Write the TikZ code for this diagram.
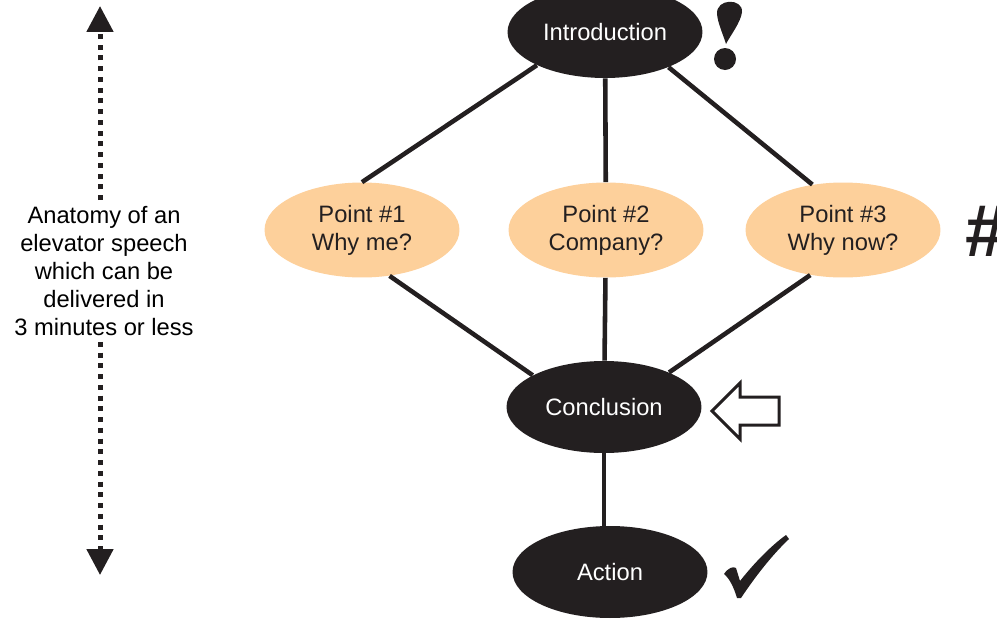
\documentclass[tikz,border=0pt]{standalone}
\usepackage{fontspec}
\setmainfont{Liberation Sans}
\usetikzlibrary{shapes.geometric,arrows.meta}
\definecolor{ink}{RGB}{35,31,32}
\definecolor{peach}{RGB}{253,208,155}

\begin{document}
\begin{tikzpicture}[x=0.02cm,y=-0.02cm,
  txt/.style={font=\fontsize{13.5}{15.9}\selectfont},
  dark/.style={txt,ellipse,fill=ink,text=white,inner sep=0pt,minimum width=3.9cm,minimum height=1.84cm},
  light/.style={dark,fill=peach,text=ink,align=center,minimum height=1.9cm},
  link/.style={draw=ink,line width=2.6pt},
  dots/.style={draw=ink,line width=0.1cm,dash pattern=on 0.1cm off 0.115cm,-{Triangle[width=0.52cm,length=0.52cm]}}]
  \useasboundingbox (0,0) rectangle (997,619);
  \node[dark] (I) at (605,32) {Introduction};
  \node[light] (P-1) at (362,230) {Point \#1\\Why me?};
  \node[light] (P-2) at (606,230) {Point \#2\\Company?};
  \node[light] (P-3) at (843,230) {Point \#3\\Why now?};
  \node[dark] (C) at (604,407) {Conclusion};
  \node[dark] (A) at (610,572) {Action};
  \draw[link] (I.206) -- (P-1.north);
  \draw[link] (I) -- (P-2);
  \draw[link] (I.331) -- (P-3.124);
  \draw[link] (P-1.301) -- (C.156);
  \draw[link] (P-2) -- (C);
  \draw[link] (P-3.234) -- (C.28);
  \draw[link] (C.south) -- (C.south |- A.north);
  \node[txt,align=center] (L) at (104,271) {Anatomy of an\\elevator speech\\which can be\\delivered in\\3 minutes or less};
  \coordinate (L-top) at (100,6);
  \coordinate (L-bot) at (100,575);
  \draw[dots] (L.north -| L-top) -- (L-top);
  \draw[dots] (L.south -| L-bot) -- (L-bot);
  \fill[ink] (717,14) .. controls (716,-2) and (743,-2) .. (742,12) .. controls (741,22) and (730,36) .. (726,44) .. controls (723,34) and (718,24) .. (717,14) -- cycle;
  \fill[ink] (725,59) circle (11);
  \node[anchor=west,inner sep=0pt,text=ink,font=\fontsize{42}{42}\selectfont\bfseries\itshape] (H) at (964,231) {\#};
  \draw[draw=ink,line width=1.7pt,fill=white] (712,411) -- (740,383) -- (740,397) -- (779,397) -- (779,425) -- (740,425) -- (740,439) -- cycle;
  \fill[ink] (724,574) .. controls (728,568) and (733,566) .. (736,568) -- (740,581) .. controls (755,562) and (772,545) .. (786,535) -- (789,539) .. controls (772,555) and (755,577) .. (741,598) -- (737,598) .. controls (734,588) and (730,579) .. (724,574) -- cycle;
\end{tikzpicture}
\end{document}
